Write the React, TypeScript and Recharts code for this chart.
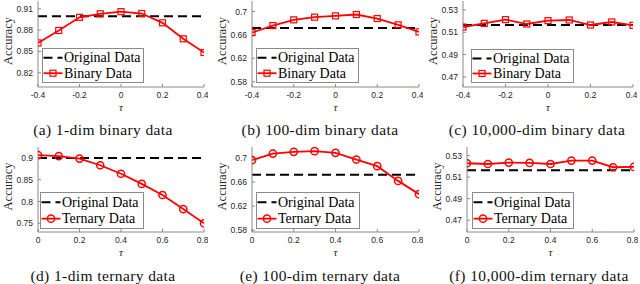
import { Line, LineChart, ReferenceLine, XAxis, YAxis } from "recharts"

const tauBinary = [-0.4, -0.3, -0.2, -0.1, 0, 0.1, 0.2, 0.3, 0.4]
const tauTernary = [0, 0.1, 0.2, 0.3, 0.4, 0.5, 0.6, 0.7, 0.8]

const binary1 = [0.862, 0.8795, 0.898, 0.903, 0.906, 0.9034, 0.8903, 0.8678, 0.8485]
const binary100 = [0.664, 0.676, 0.6858, 0.6904, 0.6926, 0.6949, 0.688, 0.6772, 0.6652]
const binary10k = [0.5147, 0.518, 0.5213, 0.5174, 0.5204, 0.521, 0.5165, 0.5192, 0.5162]
const ternary1 = [0.9063, 0.9039, 0.8984, 0.8831, 0.8636, 0.8404, 0.8149, 0.7825, 0.75]
const ternary100 = [0.6962, 0.7071, 0.71, 0.7111, 0.7083, 0.6972, 0.6862, 0.6618, 0.6398]
const ternary10k = [0.5229, 0.5222, 0.5235, 0.5232, 0.5222, 0.5254, 0.5254, 0.5192, 0.5195]

const original1 = 0.8995
const original100 = 0.672
const original10k = 0.5165

const xTicksBinary = [-0.4, -0.2, 0, 0.2, 0.4]
const xTicksTernary = [0, 0.2, 0.4, 0.6, 0.8]
const yTicks1b = [0.82, 0.85, 0.88, 0.91]
const yTicks1t = [0.75, 0.8, 0.85, 0.9]
const yTicks100 = [0.58, 0.62, 0.66, 0.7]
const yTicks10k = [0.47, 0.49, 0.51, 0.53]

const captions = [
  "(a) 1-dim binary data",
  "(b) 100-dim binary data",
  "(c) 10,000-dim binary data",
  "(d) 1-dim ternary data",
  "(e) 100-dim ternary data",
  "(f) 10,000-dim ternary data",
]

const YW = 38
const MT = 4
const MR = 4
const XH = 30
const RED = "#ff0000"
const AXIS = "#8a8a8a"
const SERIF = "'Liberation Serif', 'Times New Roman', serif"
const SANS = "'Liberation Sans', Arial, sans-serif"

const panels = [
  { tau: tauBinary, values: binary1, original: original1, xTicks: xTicksBinary, yTicks: yTicks1b, yDomain: [0.8, 0.921], plot: [38, 204, 1, 87], legend: [42, 48, 102, 35], cap: [103, 122], name: "Binary Data", marker: "square" },
  { tau: tauBinary, values: binary100, original: original100, xTicks: xTicksBinary, yTicks: yTicks100, yDomain: [0.571, 0.718], plot: [252, 419, 1, 87], legend: [256, 48, 103, 35], cap: [320, 122], name: "Binary Data", marker: "square" },
  { tau: tauBinary, values: binary10k, original: original10k, xTicks: xTicksBinary, yTicks: yTicks10k, yDomain: [0.461, 0.538], plot: [463, 633, 1, 87], legend: [471, 49, 103, 34], cap: [537, 122], name: "Binary Data", marker: "square" },
  { tau: tauTernary, values: ternary1, original: original1, xTicks: xTicksTernary, yTicks: yTicks1t, yDomain: [0.73, 0.925], plot: [38, 204, 147, 232], legend: [40, 192, 104, 37], cap: [103, 268], name: "Ternary Data", marker: "circle" },
  { tau: tauTernary, values: ternary100, original: original100, xTicks: xTicksTernary, yTicks: yTicks100, yDomain: [0.577, 0.718], plot: [252, 419, 147, 232], legend: [256, 192, 104, 37], cap: [320, 268], name: "Ternary Data", marker: "circle" },
  { tau: tauTernary, values: ternary10k, original: original10k, xTicks: xTicksTernary, yTicks: yTicks10k, yDomain: [0.459, 0.538], plot: [467, 634, 147, 232], legend: [472, 192, 102, 37], cap: [539, 268], name: "Ternary Data", marker: "circle" },
]

function SquareDot(props: any) {
  const { cx, cy, index } = props
  if (cx == null || cy == null) return <g key={index} />
  return <rect key={index} x={cx - 3} y={cy - 3} width={6} height={6} fill="none" stroke={RED} strokeWidth={1.2} />
}

function CircleDot(props: any) {
  const { cx, cy, index } = props
  if (cx == null || cy == null) return <g key={index} />
  return <circle key={index} cx={cx} cy={cy} r={3.6} fill="none" stroke={RED} strokeWidth={1.5} />
}

function AccLabel(props: any) {
  const { x, y, width, height } = props.viewBox
  const lx = x + width - 26.5
  const ly = y + height / 2 - 3
  return (
    <text x={lx} y={ly} transform={`rotate(-90 ${lx} ${ly})`} textAnchor="middle" fontFamily={SERIF} fontSize={12.5} fill="#262626">
      Accuracy
    </text>
  )
}

function TauLabel(props: any) {
  const { x, y, width } = props.viewBox
  return (
    <text x={x + width / 2} y={y + 24} textAnchor="middle" fontFamily={SERIF} fontStyle="italic" fontSize={11} fill="#262626">
      τ
    </text>
  )
}

function LegendBox({ p }: { p: any }) {
  const [lx, ly, lw, lh] = p.legend
  const r1 = lh * 0.28
  const r2 = lh * 0.72
  return (
    <svg style={{ position: "absolute", left: lx, top: ly }} width={lw} height={lh}>
      <rect x={0.5} y={0.5} width={lw - 1} height={lh - 1} fill="#fff" stroke={AXIS} strokeWidth={1} />
      <line x1={1.5} x2={20.5} y1={r1} y2={r1} stroke="#000" strokeWidth={2} strokeDasharray="9 5" />
      <text x={22} y={r1 + 4.5} fontFamily={SERIF} fontSize={14} fill="#000">Original Data</text>
      <line x1={1.5} x2={20.5} y1={r2} y2={r2} stroke={RED} strokeWidth={1.8} />
      {p.marker === "square" ? (
        <rect x={8} y={r2 - 3} width={6} height={6} fill="none" stroke={RED} strokeWidth={1.2} />
      ) : (
        <circle cx={11} cy={r2} r={3.6} fill="none" stroke={RED} strokeWidth={1.5} />
      )}
      <text x={22} y={r2 + 4.5} fontFamily={SERIF} fontSize={14} fill="#000">{p.name}</text>
    </svg>
  )
}

function Panel({ p, i }: { p: any; i: number }) {
  const [x0, x1, y0, y1] = p.plot
  const W = YW + (x1 - x0) + MR
  const H = MT + (y1 - y0) + XH
  const data = p.tau.map((t: number, k: number) => ({ tau: t, acc: p.values[k] }))
  const xDomain = [p.tau[0], p.tau[p.tau.length - 1]]
  const tickStyle = { fontSize: 8.5, fill: "#262626", fontFamily: SANS }
  return (
    <>
      <div style={{ position: "absolute", left: x0 - YW, top: y0 - MT }}>
        <LineChart width={W} height={H} data={data} margin={{ top: MT, right: MR, left: 0, bottom: 0 }}>
          <XAxis xAxisId="b" dataKey="tau" type="number" domain={xDomain} ticks={p.xTicks} allowDataOverflow
            height={XH} tickSize={-3} tickMargin={7.5} tick={tickStyle} stroke={AXIS} label={<TauLabel />} />
          <XAxis xAxisId="t" dataKey="tau" type="number" orientation="top" domain={xDomain} ticks={p.xTicks} allowDataOverflow
            height={0} tickSize={-3} tick={false} stroke={AXIS} />
          <YAxis yAxisId="l" type="number" domain={p.yDomain} ticks={p.yTicks} allowDataOverflow
            width={YW} tickSize={-3} tickMargin={8} tick={tickStyle} stroke={AXIS} label={<AccLabel />} />
          <YAxis yAxisId="r" type="number" orientation="right" domain={p.yDomain} ticks={p.yTicks} allowDataOverflow
            width={0} tickSize={-3} tick={false} stroke={AXIS} />
          <ReferenceLine xAxisId="b" yAxisId="l" y={p.original} stroke="#000" strokeWidth={2} strokeDasharray="9 5" />
          <Line xAxisId="b" yAxisId="l" dataKey="acc" stroke={RED} strokeWidth={1.8}
            dot={p.marker === "square" ? <SquareDot /> : <CircleDot />} isAnimationActive={false} />
        </LineChart>
      </div>
      <LegendBox p={p} />
      <div style={{ position: "absolute", left: p.cap[0] - 110, top: p.cap[1], width: 220, textAlign: "center",
        fontFamily: SERIF, fontSize: 15.5, letterSpacing: 0.4, lineHeight: "16px", color: "#111", whiteSpace: "nowrap" }}>
        {captions[i]}
      </div>
    </>
  )
}

export default function App() {
  return (
    <div style={{ position: "absolute", left: 0, top: 0, width: 640, height: 284, background: "#fff", overflow: "hidden" }}>
      {panels.map((p, i) => (
        <Panel key={i} p={p} i={i} />
      ))}
    </div>
  )
}
